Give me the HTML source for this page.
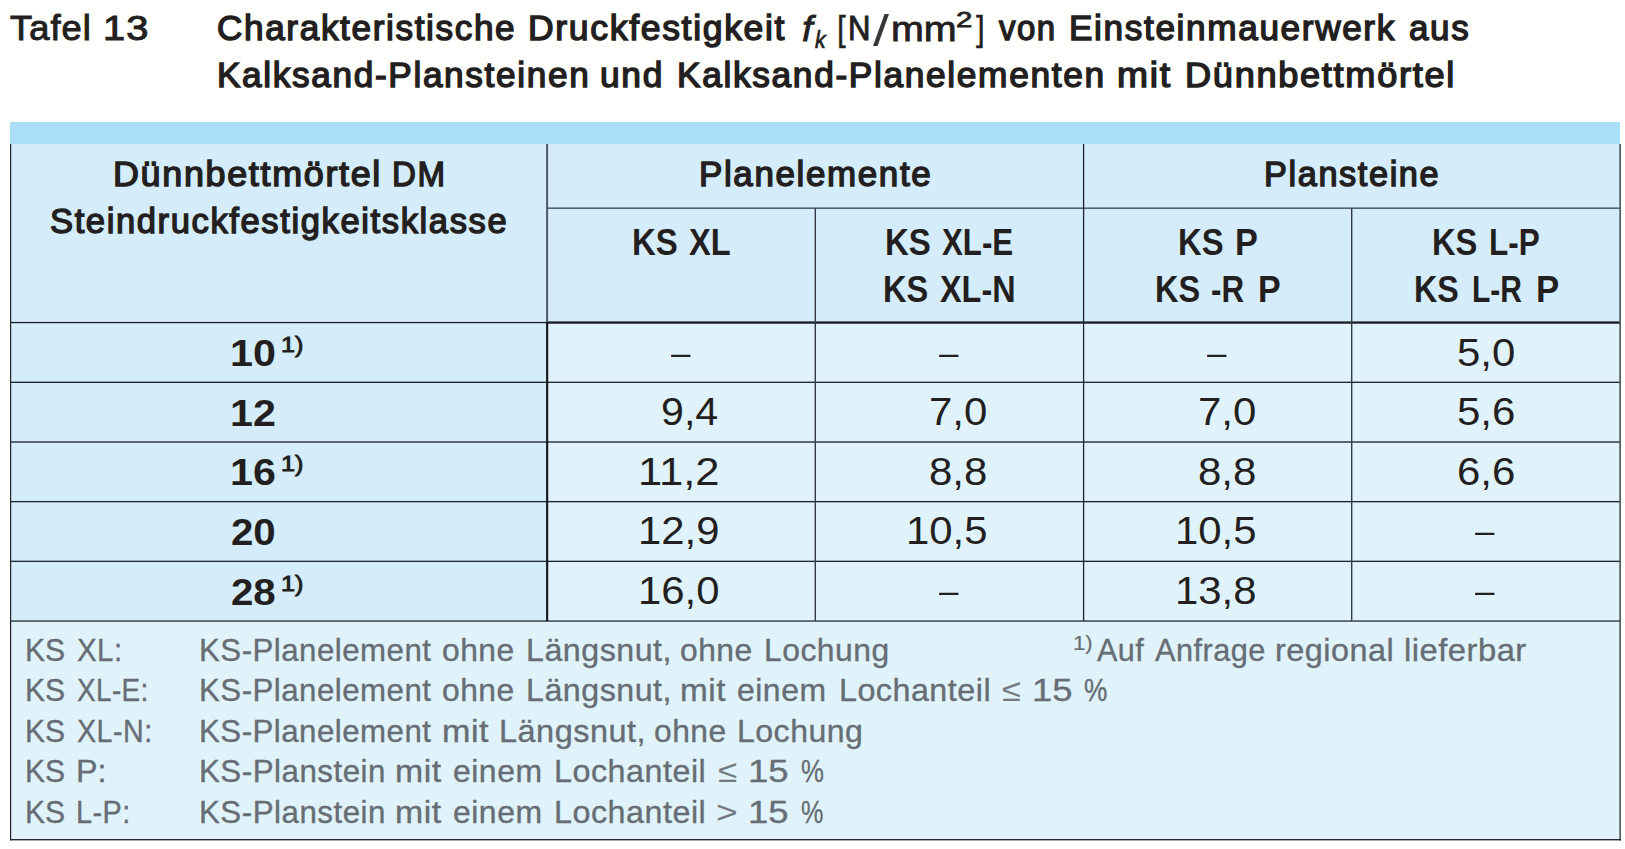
<!DOCTYPE html>
<html lang="de"><head><meta charset="utf-8"><title>Tafel 13</title>
<style>
html,body{margin:0;padding:0;background:#fff}
#pg{position:relative;width:1625px;height:849px;overflow:hidden;background:#fffffe;
 font-family:"Liberation Sans",sans-serif;color:#231f20}
.t{position:absolute;white-space:pre;line-height:1;transform-origin:0 0;display:block}
.b{position:absolute}
#ln{position:absolute;left:0;top:0}
</style></head>
<body><div id="pg">
<div class="b" style="left:10px;top:122px;width:1610px;height:22px;background:#aadffa"></div><div class="b" style="left:10px;top:144px;width:1610px;height:178px;background:#d5edfb"></div><div class="b" style="left:10px;top:322px;width:537px;height:299px;background:#d5edfb"></div><div class="b" style="left:547px;top:322px;width:1073px;height:299px;background:#e0f3fb"></div><div class="b" style="left:10px;top:621px;width:1610px;height:219px;background:#e0f3fa"></div>
<svg id="ln" width="1625" height="849" viewBox="0 0 1625 849"><rect x="10.00" y="381.62" width="1611.00" height="1.36" fill="#1e2730"/><rect x="10.00" y="441.32" width="1611.00" height="1.36" fill="#1e2730"/><rect x="10.00" y="500.97" width="1611.00" height="1.36" fill="#1e2730"/><rect x="10.00" y="560.67" width="1611.00" height="1.36" fill="#1e2730"/><rect x="10.00" y="620.30" width="1611.00" height="1.50" fill="#3a4550"/><rect x="547.00" y="207.45" width="1074.00" height="1.50" fill="#4d5a66"/><rect x="10.00" y="321.90" width="537.00" height="1.30" fill="#1c1c22"/><rect x="547.00" y="321.40" width="1074.00" height="2.30" fill="#1a1a22"/><rect x="546.10" y="144.00" width="2.00" height="178.00" fill="#4f5a68"/><rect x="546.10" y="322.00" width="2.10" height="299.00" fill="#14121a"/><rect x="814.60" y="208.00" width="1.40" height="413.00" fill="#333b45"/><rect x="1082.95" y="144.00" width="1.30" height="477.00" fill="#1c252e"/><rect x="1351.00" y="208.00" width="1.40" height="413.00" fill="#333b45"/><rect x="10.00" y="144.00" width="1.20" height="696.50" fill="#222228"/><rect x="1619.30" y="144.00" width="1.70" height="696.50" fill="#525c66"/><rect x="10.00" y="839.00" width="1611.00" height="1.40" fill="#262a30"/></svg>
<header class="title">
<span class="t" style="left:10.12px;top:11px;font-size:34.8px;transform:scaleX(1.0434);-webkit-text-stroke:1.0px #231f20;letter-spacing:1.0px">Tafel</span>
<span class="t" style="left:102.79px;top:11px;font-size:34.8px;transform:scaleX(1.1432);-webkit-text-stroke:1.0px #231f20;letter-spacing:1.0px">13</span>
<span class="t" style="left:216.69px;top:11px;font-size:34.2px;transform:scaleX(1.0274);-webkit-text-stroke:1.4px #231f20;letter-spacing:1.6px">Charakteristische</span>
<span class="t" style="left:528.25px;top:11px;font-size:34.2px;transform:scaleX(1.0402);-webkit-text-stroke:1.4px #231f20;letter-spacing:1.6px">Druckfestigkeit</span>
<span class="t" style="left:801.94px;top:11px;font-size:35.0px;transform:scaleX(1.0938);font-style:italic;-webkit-text-stroke:0.8px #231f20">f</span>
<span class="t" style="left:814.51px;top:28px;font-size:24.0px;transform:scaleX(0.8844);font-style:italic;-webkit-text-stroke:0.7px #231f20">k</span>
<span class="t" style="left:837.41px;top:12px;font-size:35.7px;transform:scaleX(0.8810);-webkit-text-stroke:0.4px #231f20">[</span>
<span class="t" style="left:848.34px;top:11px;font-size:34.2px;transform:scaleX(0.9095);-webkit-text-stroke:1.0px #231f20">N</span>
<span class="t" style="left:872.60px;top:9px;font-size:44.0px;transform:scaleX(1.3077);color:#3a3637">/</span>
<span class="t" style="left:891.15px;top:12px;font-size:34.2px;transform:scaleX(1.1533);-webkit-text-stroke:0.8px #231f20">mm</span>
<span class="t" style="left:956.02px;top:9px;font-size:22.5px;transform:scaleX(1.3051);-webkit-text-stroke:0.8px #231f20">2</span>
<span class="t" style="left:975.78px;top:12px;font-size:35.7px;transform:scaleX(0.8810);-webkit-text-stroke:0.4px #231f20">]</span>
<span class="t" style="left:999.07px;top:11px;font-size:34.2px;transform:scaleX(0.9635);-webkit-text-stroke:1.4px #231f20;letter-spacing:1.6px">von</span>
<span class="t" style="left:1068.66px;top:11px;font-size:34.2px;transform:scaleX(1.0284);-webkit-text-stroke:1.4px #231f20;letter-spacing:1.6px">Einsteinmauerwerk</span>
<span class="t" style="left:1408.69px;top:11px;font-size:34.2px;transform:scaleX(1.0238);-webkit-text-stroke:1.4px #231f20;letter-spacing:1.6px">aus</span>
<span class="t" style="left:216.66px;top:58px;font-size:34.2px;transform:scaleX(1.0294);-webkit-text-stroke:1.4px #231f20;letter-spacing:1.6px">Kalksand-Plansteinen</span>
<span class="t" style="left:600.06px;top:58px;font-size:34.2px;transform:scaleX(1.0342);-webkit-text-stroke:1.4px #231f20;letter-spacing:1.6px">und</span>
<span class="t" style="left:676.66px;top:58px;font-size:34.2px;transform:scaleX(1.0324);-webkit-text-stroke:1.4px #231f20;letter-spacing:1.6px">Kalksand-Planelementen</span>
<span class="t" style="left:1116.58px;top:58px;font-size:34.2px;transform:scaleX(1.0889);-webkit-text-stroke:1.4px #231f20;letter-spacing:1.6px">mit</span>
<span class="t" style="left:1184.62px;top:58px;font-size:34.2px;transform:scaleX(1.0581);-webkit-text-stroke:1.4px #231f20;letter-spacing:1.6px">Dünnbettmörtel</span>
</header>
<section class="thead">
<span class="t" style="left:112.63px;top:157px;font-size:34.2px;transform:scaleX(1.0502);-webkit-text-stroke:1.4px #231f20;letter-spacing:1.6px">Dünnbettmörtel</span>
<span class="t" style="left:391.74px;top:157px;font-size:34.2px;transform:scaleX(0.9673);-webkit-text-stroke:1.4px #231f20;letter-spacing:1.6px">DM</span>
<span class="t" style="left:49.70px;top:204px;font-size:34.2px;transform:scaleX(1.0101);-webkit-text-stroke:1.4px #231f20;letter-spacing:1.6px">Steindruckfestigkeitsklasse</span>
<span class="t" style="left:698.67px;top:157px;font-size:34.2px;transform:scaleX(1.0220);-webkit-text-stroke:1.4px #231f20;letter-spacing:1.6px">Planelemente</span>
<span class="t" style="left:1263.70px;top:157px;font-size:34.2px;transform:scaleX(1.0033);-webkit-text-stroke:1.4px #231f20;letter-spacing:1.6px">Plansteine</span>
<span class="t" style="left:632.07px;top:225px;font-size:36.0px;transform:scaleX(0.9149);font-weight:700">KS</span>
<span class="t" style="left:689.30px;top:225px;font-size:36.0px;transform:scaleX(0.9064);font-weight:700">XL</span>
<span class="t" style="left:884.97px;top:225px;font-size:36.0px;transform:scaleX(0.9171);font-weight:700">KS</span>
<span class="t" style="left:942.30px;top:225px;font-size:36.0px;transform:scaleX(0.8680);font-weight:700">XL-E</span>
<span class="t" style="left:883.09px;top:272px;font-size:36.0px;transform:scaleX(0.9043);font-weight:700">KS</span>
<span class="t" style="left:939.80px;top:272px;font-size:36.0px;transform:scaleX(0.9001);font-weight:700">XL-N</span>
<span class="t" style="left:1177.58px;top:225px;font-size:36.0px;transform:scaleX(0.9107);font-weight:700">KS</span>
<span class="t" style="left:1235.10px;top:225px;font-size:36.0px;transform:scaleX(0.9524);font-weight:700">P</span>
<span class="t" style="left:1155.20px;top:272px;font-size:36.0px;transform:scaleX(0.9022);font-weight:700">KS</span>
<span class="t" style="left:1210.93px;top:272px;font-size:36.0px;transform:scaleX(0.8705);font-weight:700">-R</span>
<span class="t" style="left:1258.11px;top:272px;font-size:36.0px;transform:scaleX(0.9429);font-weight:700">P</span>
<span class="t" style="left:1431.58px;top:225px;font-size:36.0px;transform:scaleX(0.9085);font-weight:700">KS</span>
<span class="t" style="left:1489.35px;top:225px;font-size:36.0px;transform:scaleX(0.8749);font-weight:700">L-P</span>
<span class="t" style="left:1414.11px;top:272px;font-size:36.0px;transform:scaleX(0.8958);font-weight:700">KS</span>
<span class="t" style="left:1471.63px;top:272px;font-size:36.0px;transform:scaleX(0.8331);font-weight:700">L-R</span>
<span class="t" style="left:1535.77px;top:272px;font-size:36.0px;transform:scaleX(0.9667);font-weight:700">P</span>
</section>
<section class="tbody">
<span class="t" style="left:229.77px;top:335px;font-size:37.0px;transform:scaleX(1.1146);font-weight:700">10</span>
<span class="t" style="left:281.27px;top:334px;font-size:22.0px;transform:scaleX(1.1469);-webkit-text-stroke:0.9px #231f20">1)</span>
<span class="t" style="left:671.20px;top:335px;font-size:35.0px;transform:scaleX(0.9950)">–</span>
<span class="t" style="left:939.20px;top:335px;font-size:35.0px;transform:scaleX(0.9950)">–</span>
<span class="t" style="left:1207.20px;top:335px;font-size:35.0px;transform:scaleX(0.9950)">–</span>
<span class="t" style="left:1456.60px;top:334px;font-size:38.0px;transform:scaleX(1.1047)">5,0</span>
<span class="t" style="left:229.77px;top:395px;font-size:37.0px;transform:scaleX(1.1146);font-weight:700">12</span>
<span class="t" style="left:660.82px;top:393px;font-size:38.0px;transform:scaleX(1.0834)">9,4</span>
<span class="t" style="left:929.20px;top:393px;font-size:38.0px;transform:scaleX(1.1047)">7,0</span>
<span class="t" style="left:1198.00px;top:393px;font-size:38.0px;transform:scaleX(1.1047)">7,0</span>
<span class="t" style="left:1456.60px;top:393px;font-size:38.0px;transform:scaleX(1.1047)">5,6</span>
<span class="t" style="left:229.77px;top:454px;font-size:37.0px;transform:scaleX(1.1146);font-weight:700">16</span>
<span class="t" style="left:281.27px;top:453px;font-size:22.0px;transform:scaleX(1.1469);-webkit-text-stroke:0.9px #231f20">1)</span>
<span class="t" style="left:637.61px;top:453px;font-size:38.0px;transform:scaleX(1.1470)">11,2</span>
<span class="t" style="left:929.20px;top:453px;font-size:38.0px;transform:scaleX(1.1047)">8,8</span>
<span class="t" style="left:1198.00px;top:453px;font-size:38.0px;transform:scaleX(1.1047)">8,8</span>
<span class="t" style="left:1456.60px;top:453px;font-size:38.0px;transform:scaleX(1.1047)">6,6</span>
<span class="t" style="left:230.91px;top:514px;font-size:37.0px;transform:scaleX(1.0865);font-weight:700">20</span>
<span class="t" style="left:637.70px;top:512px;font-size:38.0px;transform:scaleX(1.1013)">12,9</span>
<span class="t" style="left:906.10px;top:512px;font-size:38.0px;transform:scaleX(1.1013)">10,5</span>
<span class="t" style="left:1174.90px;top:512px;font-size:38.0px;transform:scaleX(1.1013)">10,5</span>
<span class="t" style="left:1475.40px;top:513px;font-size:35.0px;transform:scaleX(0.9950)">–</span>
<span class="t" style="left:230.91px;top:574px;font-size:37.0px;transform:scaleX(1.0865);font-weight:700">28</span>
<span class="t" style="left:281.27px;top:573px;font-size:22.0px;transform:scaleX(1.1469);-webkit-text-stroke:0.9px #231f20">1)</span>
<span class="t" style="left:637.70px;top:572px;font-size:38.0px;transform:scaleX(1.1013)">16,0</span>
<span class="t" style="left:939.20px;top:573px;font-size:35.0px;transform:scaleX(0.9950)">–</span>
<span class="t" style="left:1174.90px;top:572px;font-size:38.0px;transform:scaleX(1.1013)">13,8</span>
<span class="t" style="left:1475.40px;top:573px;font-size:35.0px;transform:scaleX(0.9950)">–</span>
</section>
<footer class="legend">
<span class="t" style="left:24.96px;top:635px;font-size:31.6px;transform:scaleX(0.9538);color:#666d74;-webkit-text-stroke:0.35px #666d74">KS</span>
<span class="t" style="left:76.76px;top:635px;font-size:31.6px;transform:scaleX(0.9327);color:#666d74;-webkit-text-stroke:0.35px #666d74;letter-spacing:0.5px">XL:</span>
<span class="t" style="left:198.60px;top:635px;font-size:31.6px;transform:scaleX(0.9881);color:#666d74;-webkit-text-stroke:0.35px #666d74;letter-spacing:0.5px">KS-Planelement</span>
<span class="t" style="left:442.17px;top:635px;font-size:31.6px;transform:scaleX(1.0062);color:#666d74;-webkit-text-stroke:0.35px #666d74;letter-spacing:0.5px">ohne</span>
<span class="t" style="left:526.14px;top:635px;font-size:31.6px;transform:scaleX(1.0192);color:#666d74;-webkit-text-stroke:0.35px #666d74;letter-spacing:0.5px">Längsnut,</span>
<span class="t" style="left:680.17px;top:635px;font-size:31.6px;transform:scaleX(1.0062);color:#666d74;-webkit-text-stroke:0.35px #666d74;letter-spacing:0.5px">ohne</span>
<span class="t" style="left:764.16px;top:635px;font-size:31.6px;transform:scaleX(1.0083);color:#666d74;-webkit-text-stroke:0.35px #666d74;letter-spacing:0.5px">Lochung</span>
<span class="t" style="left:1072.81px;top:633px;font-size:20.2px;transform:scaleX(1.0957);color:#666d74;-webkit-text-stroke:0.2px #666d74">1)</span>
<span class="t" style="left:1096.77px;top:635px;font-size:31.6px;transform:scaleX(0.9675);color:#666d74;-webkit-text-stroke:0.35px #666d74;letter-spacing:0.5px">Auf</span>
<span class="t" style="left:1155.17px;top:635px;font-size:31.6px;transform:scaleX(0.9697);color:#666d74;-webkit-text-stroke:0.35px #666d74;letter-spacing:0.5px">Anfrage</span>
<span class="t" style="left:1275.13px;top:635px;font-size:31.6px;transform:scaleX(1.0245);color:#666d74;-webkit-text-stroke:0.35px #666d74;letter-spacing:0.5px">regional</span>
<span class="t" style="left:1403.71px;top:635px;font-size:31.6px;transform:scaleX(1.0347);color:#666d74;-webkit-text-stroke:0.35px #666d74;letter-spacing:0.5px">lieferbar</span>
<span class="t" style="left:24.96px;top:675px;font-size:31.6px;transform:scaleX(0.9538);color:#666d74;-webkit-text-stroke:0.35px #666d74">KS</span>
<span class="t" style="left:76.75px;top:675px;font-size:31.6px;transform:scaleX(0.8805);color:#666d74;-webkit-text-stroke:0.35px #666d74;letter-spacing:0.5px">XL-E:</span>
<span class="t" style="left:198.60px;top:675px;font-size:31.6px;transform:scaleX(0.9881);color:#666d74;-webkit-text-stroke:0.35px #666d74;letter-spacing:0.5px">KS-Planelement</span>
<span class="t" style="left:442.17px;top:675px;font-size:31.6px;transform:scaleX(1.0062);color:#666d74;-webkit-text-stroke:0.35px #666d74;letter-spacing:0.5px">ohne</span>
<span class="t" style="left:526.14px;top:675px;font-size:31.6px;transform:scaleX(1.0192);color:#666d74;-webkit-text-stroke:0.35px #666d74;letter-spacing:0.5px">Längsnut,</span>
<span class="t" style="left:680.07px;top:675px;font-size:31.6px;transform:scaleX(1.0555);color:#666d74;-webkit-text-stroke:0.35px #666d74;letter-spacing:0.5px">mit</span>
<span class="t" style="left:737.17px;top:675px;font-size:31.6px;transform:scaleX(1.0107);color:#666d74;-webkit-text-stroke:0.35px #666d74;letter-spacing:0.5px">einem</span>
<span class="t" style="left:839.14px;top:675px;font-size:31.6px;transform:scaleX(1.0202);color:#666d74;-webkit-text-stroke:0.35px #666d74;letter-spacing:0.5px">Lochanteil</span>
<span class="t" style="left:1002.00px;top:675px;font-size:31.6px;transform:scaleX(1.0882);color:#737a80">≤</span>
<span class="t" style="left:1031.89px;top:675px;font-size:31.6px;transform:scaleX(1.1543);color:#666d74;-webkit-text-stroke:0.35px #666d74">15</span>
<span class="t" style="left:1083.81px;top:675px;font-size:31.6px;transform:scaleX(0.8311);color:#666d74;-webkit-text-stroke:0.35px #666d74">%</span>
<span class="t" style="left:24.96px;top:716px;font-size:31.6px;transform:scaleX(0.9538);color:#666d74;-webkit-text-stroke:0.35px #666d74">KS</span>
<span class="t" style="left:76.76px;top:716px;font-size:31.6px;transform:scaleX(0.9075);color:#666d74;-webkit-text-stroke:0.35px #666d74;letter-spacing:0.5px">XL-N:</span>
<span class="t" style="left:198.60px;top:716px;font-size:31.6px;transform:scaleX(0.9881);color:#666d74;-webkit-text-stroke:0.35px #666d74;letter-spacing:0.5px">KS-Planelement</span>
<span class="t" style="left:441.63px;top:716px;font-size:31.6px;transform:scaleX(1.0795);color:#666d74;-webkit-text-stroke:0.35px #666d74;letter-spacing:0.5px">mit</span>
<span class="t" style="left:499.13px;top:716px;font-size:31.6px;transform:scaleX(1.0264);color:#666d74;-webkit-text-stroke:0.35px #666d74;letter-spacing:0.5px">Längsnut,</span>
<span class="t" style="left:654.17px;top:716px;font-size:31.6px;transform:scaleX(1.0062);color:#666d74;-webkit-text-stroke:0.35px #666d74;letter-spacing:0.5px">ohne</span>
<span class="t" style="left:737.15px;top:716px;font-size:31.6px;transform:scaleX(1.0132);color:#666d74;-webkit-text-stroke:0.35px #666d74;letter-spacing:0.5px">Lochung</span>
<span class="t" style="left:24.96px;top:756px;font-size:31.6px;transform:scaleX(0.9538);color:#666d74;-webkit-text-stroke:0.35px #666d74">KS</span>
<span class="t" style="left:75.53px;top:756px;font-size:31.6px;transform:scaleX(1.0227);color:#666d74;-webkit-text-stroke:0.35px #666d74">P:</span>
<span class="t" style="left:198.59px;top:756px;font-size:31.6px;transform:scaleX(0.9907);color:#666d74;-webkit-text-stroke:0.35px #666d74;letter-spacing:0.5px">KS-Planstein</span>
<span class="t" style="left:395.05px;top:756px;font-size:31.6px;transform:scaleX(1.0699);color:#666d74;-webkit-text-stroke:0.35px #666d74;letter-spacing:0.5px">mit</span>
<span class="t" style="left:453.17px;top:756px;font-size:31.6px;transform:scaleX(1.0107);color:#666d74;-webkit-text-stroke:0.35px #666d74;letter-spacing:0.5px">einem</span>
<span class="t" style="left:553.74px;top:756px;font-size:31.6px;transform:scaleX(1.0216);color:#666d74;-webkit-text-stroke:0.35px #666d74;letter-spacing:0.5px">Lochanteil</span>
<span class="t" style="left:717.60px;top:756px;font-size:31.6px;transform:scaleX(1.1059);color:#737a80">≤</span>
<span class="t" style="left:747.89px;top:756px;font-size:31.6px;transform:scaleX(1.1543);color:#666d74;-webkit-text-stroke:0.35px #666d74">15</span>
<span class="t" style="left:800.83px;top:756px;font-size:31.6px;transform:scaleX(0.8159);color:#666d74;-webkit-text-stroke:0.35px #666d74">%</span>
<span class="t" style="left:24.96px;top:797px;font-size:31.6px;transform:scaleX(0.9538);color:#666d74;-webkit-text-stroke:0.35px #666d74">KS</span>
<span class="t" style="left:75.73px;top:797px;font-size:31.6px;transform:scaleX(0.9125);color:#666d74;-webkit-text-stroke:0.35px #666d74;letter-spacing:0.5px">L-P:</span>
<span class="t" style="left:198.59px;top:797px;font-size:31.6px;transform:scaleX(0.9907);color:#666d74;-webkit-text-stroke:0.35px #666d74;letter-spacing:0.5px">KS-Planstein</span>
<span class="t" style="left:395.05px;top:797px;font-size:31.6px;transform:scaleX(1.0699);color:#666d74;-webkit-text-stroke:0.35px #666d74;letter-spacing:0.5px">mit</span>
<span class="t" style="left:453.17px;top:797px;font-size:31.6px;transform:scaleX(1.0107);color:#666d74;-webkit-text-stroke:0.35px #666d74;letter-spacing:0.5px">einem</span>
<span class="t" style="left:553.74px;top:797px;font-size:31.6px;transform:scaleX(1.0216);color:#666d74;-webkit-text-stroke:0.35px #666d74;letter-spacing:0.5px">Lochanteil</span>
<span class="t" style="left:716.43px;top:797px;font-size:31.6px;transform:scaleX(1.1750);color:#737a80">&gt;</span>
<span class="t" style="left:747.89px;top:797px;font-size:31.6px;transform:scaleX(1.1543);color:#666d74;-webkit-text-stroke:0.35px #666d74">15</span>
<span class="t" style="left:800.84px;top:797px;font-size:31.6px;transform:scaleX(0.7970);color:#666d74;-webkit-text-stroke:0.35px #666d74">%</span>
</footer>

</div></body></html>
